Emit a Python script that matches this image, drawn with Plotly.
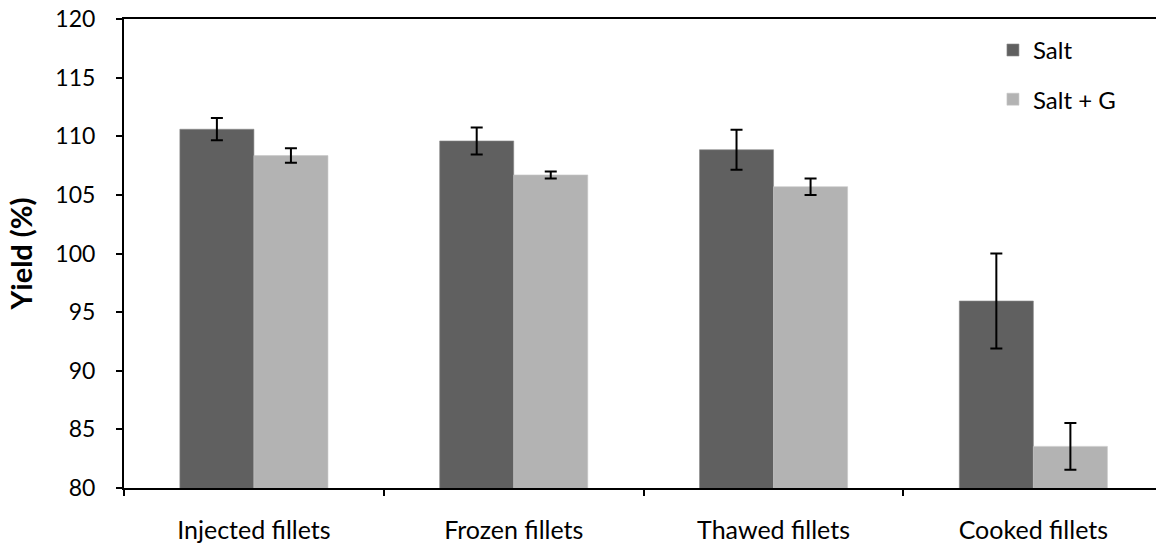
import plotly.graph_objects as go

categories = ["Injected fillets", "Frozen fillets", "Thawed fillets", "Cooked fillets"]
salt = [110.6, 109.6, 108.85, 95.95]
salt_err = [0.95, 1.15, 1.7, 4.05]
salt_g = [108.35, 106.7, 105.7, 83.55]
salt_g_err = [0.62, 0.3, 0.7, 2.0]

FONT = "Lato"

fig = go.Figure()
fig.add_trace(go.Bar(
    x=categories, y=salt, name="Salt", legendgroup="a",
    marker=dict(color="#606060", line=dict(color="#8a8a8a", width=0.6)),
    error_y=dict(type="data", array=salt_err, visible=True, color="black", thickness=2, width=6),
))
fig.add_trace(go.Bar(
    x=categories, y=salt_g, name="Salt + G", legendgroup="b",
    marker=dict(color="#b3b3b3", line=dict(color="#c8c8c8", width=0.6)),
    error_y=dict(type="data", array=salt_g_err, visible=True, color="black", thickness=2, width=6),
))

fig.update_layout(
    width=1156, height=545,
    margin=dict(l=124, r=0, t=19, b=57, autoexpand=False),
    paper_bgcolor="white", plot_bgcolor="white",
    barmode="group", bargap=0.43, bargroupgap=0,
    font=dict(family=FONT, size=24, color="black"),
    showlegend=True,
    legend=dict(
        x=0.842, y=0.981, xanchor="left", yanchor="top",
        bgcolor="rgba(0,0,0,0)", font=dict(size=24, family=FONT),
        traceorder="grouped", tracegroupgap=15, itemwidth=30,
    ),
    xaxis=dict(
        type="category", range=[-0.5, 3.472], automargin=False,
        showline=True, linecolor="black", linewidth=2, mirror=True,
        ticks="outside", tickson="boundaries", ticklen=6, tickwidth=2, tickcolor="black",
        showgrid=False, zeroline=False,
        tickfont=dict(size=25, family=FONT),
        ticklabelstandoff=19,
    ),
    yaxis=dict(
        range=[80, 120], dtick=5, tick0=80, automargin=False,
        showline=True, linecolor="black", linewidth=2,
        ticks="outside", ticklen=6, tickwidth=2, tickcolor="black",
        showgrid=False, zeroline=False,
        tickfont=dict(size=23, family=FONT),
        ticklabelstandoff=16, ticklabeloverflow="allow",
        title=dict(text="<b>Yield (%)</b>", font=dict(size=29, family=FONT), standoff=14),
    ),
)

# remove the page's default 8px body margin so the figure fills the window exactly
fig.write_html(
    "out.html",
    config={"displayModeBar": False},
    post_script="document.body.style.margin='0';",
)
